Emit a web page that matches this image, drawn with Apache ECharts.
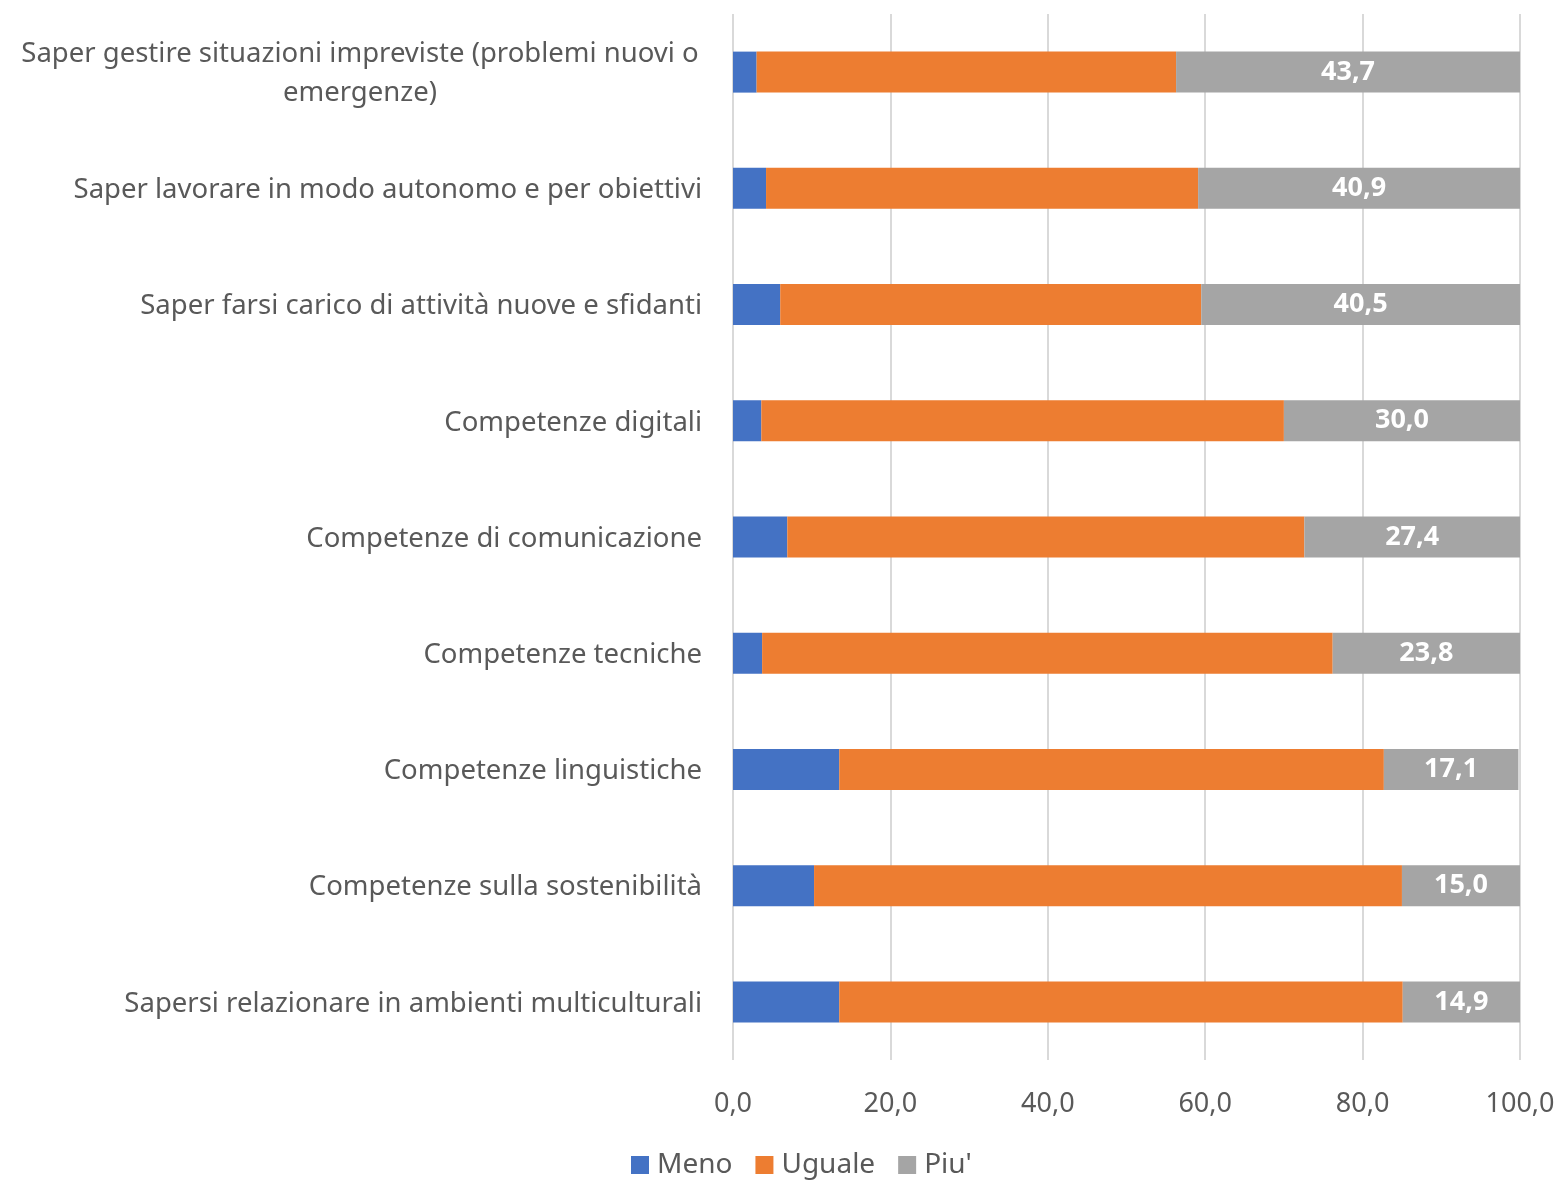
<!DOCTYPE html>
<html>
<head>
  <meta charset="utf-8">
  <title>Competenze</title>
  <script src="https://cdn.jsdelivr.net/npm/echarts@6/dist/echarts.min.js"></script>
</head>
<body style="margin:0">
  <div id="main" style="width:1561px;height:1180px;"></div>
  <script>
    // categorie (dall'alto in basso)
    var categorie = [
      'Saper gestire situazioni impreviste (problemi nuovi o emergenze)',
      'Saper lavorare in modo autonomo e per obiettivi',
      'Saper farsi carico di attività nuove e sfidanti',
      'Competenze digitali',
      'Competenze di comunicazione',
      'Competenze tecniche',
      'Competenze linguistiche',
      'Competenze sulla sostenibilità',
      'Sapersi relazionare in ambienti multiculturali'
    ];
    var meno = [3.0, 4.2, 6.0, 3.6, 6.9, 3.7, 13.5, 10.3, 13.5];
    var uguale = [53.3, 54.9, 53.5, 66.4, 65.7, 72.5, 69.2, 74.7, 71.6];
    var piu = [43.7, 40.9, 40.5, 30.0, 27.4, 23.8, 17.1, 15.0, 14.9];
    var tickX = [0, 20, 40, 60, 80, 100];

    var fmt = function (v) { return v.toFixed(1).replace('.', ','); };
    var font = 'Noto Sans';

    var myChart = echarts.init(document.getElementById('main'));
    var option = {
      animation: false,
      textStyle: { fontFamily: font },
      grid: { left: 733, right: 41, top: 14, bottom: 120, containLabel: false },
      legend: {
        top: 1146,
        left: 626,
        itemWidth: 18,
        itemHeight: 18,
        itemGap: 23,
        icon: 'rect',
        textStyle: { fontSize: 28, color: '#595959', fontFamily: font, padding: [0, 0, 0, 3] },
        data: ['Meno', 'Uguale', "Piu'"]
      },
      xAxis: {
        type: 'value',
        min: tickX[0],
        max: tickX[tickX.length - 1],
        interval: 20,
        axisLine: { show: false },
        axisTick: { show: false },
        axisLabel: {
          margin: 31,
          fontSize: 27,
          color: '#595959',
          formatter: function (v) { return fmt(v); }
        },
        splitLine: { lineStyle: { color: '#d9d9d9', width: 2 } }
      },
      yAxis: {
        type: 'category',
        inverse: true,
        data: categorie,
        axisLine: { show: false },
        axisTick: { show: false },
        axisLabel: {
          margin: 31,
          fontSize: 27.5,
          color: '#595959',
          width: 684,
          align: 'right',
          padding: [4, 0, 0, 0],
          formatter: function (v, i) {
            if (i === 0) {
              return '{c|Saper gestire situazioni impreviste (problemi nuovi o}\n{c|emergenze)}';
            }
            return v;
          },
          rich: {
            c: { align: 'center', fontSize: 27.5, color: '#595959', lineHeight: 39, fontFamily: font }
          }
        }
      },
      series: [
        {
          name: 'Meno', type: 'bar', stack: 'tot', barWidth: 41,
          itemStyle: { color: '#4472C4' },
          data: meno
        },
        {
          name: 'Uguale', type: 'bar', stack: 'tot', barWidth: 41,
          itemStyle: { color: '#ED7D31' },
          data: uguale
        },
        {
          name: "Piu'", type: 'bar', stack: 'tot', barWidth: 41,
          itemStyle: { color: '#A5A5A5' },
          label: {
            show: true,
            position: 'inside',
            color: '#ffffff',
            fontSize: 27,
            fontWeight: 'bold',
            padding: [4, 0, 0, 0],
            formatter: function (p) { return fmt(p.value); }
          },
          data: piu
        }
      ]
    };
    myChart.setOption(option);
  </script>
</body>
</html>
